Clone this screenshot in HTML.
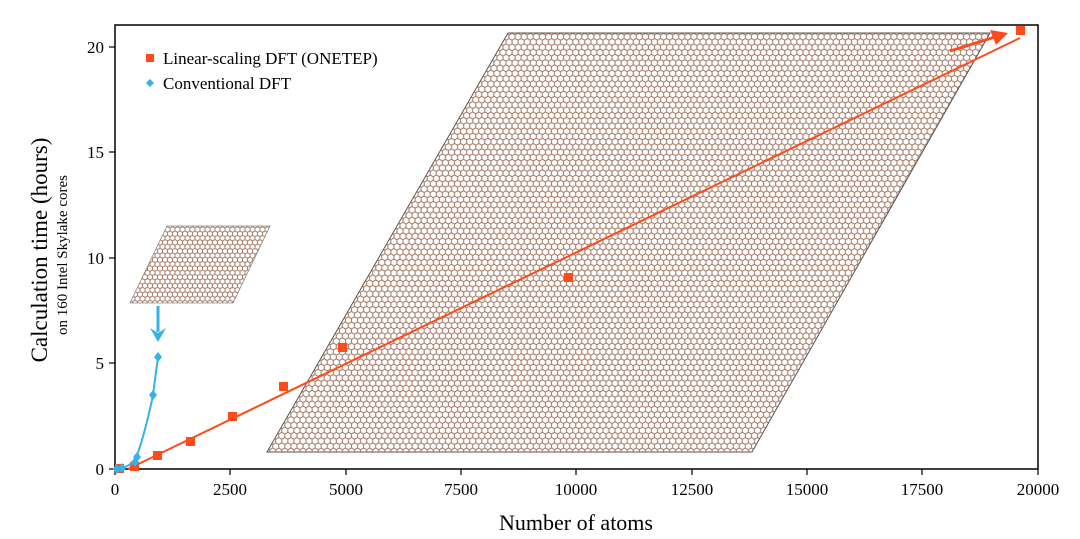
<!DOCTYPE html>
<html><head><style>body{margin:0;background:#fff}svg{display:block}</style></head><body>
<svg width="1080" height="539" viewBox="0 0 1080 539" xmlns="http://www.w3.org/2000/svg" font-family="Liberation Serif, serif">
<defs>
<pattern id="hx" width="6.06" height="10.5" patternUnits="userSpaceOnUse">
<path d="M3.03,0 V1.75 M0,3.5 L3.03,1.75 L6.06,3.5 V7 L3.03,8.75 L0,7 Z M3.03,8.75 V10.5" fill="none" stroke="#a8806c" stroke-width="1.1"/>
</pattern>
<pattern id="hx2" width="5" height="8.66" patternUnits="userSpaceOnUse">
<path d="M2.5,0 V1.44 M0,2.89 L2.5,1.44 L5,2.89 V5.77 L2.5,7.22 L0,5.77 Z M2.5,7.22 V8.66" fill="none" stroke="#a8806c" stroke-width="1"/>
</pattern>
</defs>
<!-- axes box -->
<rect x="115" y="25" width="923" height="444" fill="none" stroke="#000" stroke-width="1.5"/>
<!-- parallelograms -->
<polygon points="267,452 752,452 990,33 508,33" fill="url(#hx)" stroke="#555" stroke-width="1"/>
<polygon points="130,303 233,303 270,226 167,226" fill="url(#hx2)" stroke="#888" stroke-width="0.8"/>
<!-- ticks -->
<g stroke="#000" stroke-width="1.2">
<line x1="115" y1="469" x2="115" y2="475"/><line x1="230" y1="469" x2="230" y2="475"/><line x1="346" y1="469" x2="346" y2="475"/><line x1="461" y1="469" x2="461" y2="475"/><line x1="576" y1="469" x2="576" y2="475"/><line x1="692" y1="469" x2="692" y2="475"/><line x1="807" y1="469" x2="807" y2="475"/><line x1="922" y1="469" x2="922" y2="475"/><line x1="1038" y1="469" x2="1038" y2="475"/>
<line x1="109" y1="469" x2="115" y2="469"/><line x1="109" y1="363" x2="115" y2="363"/><line x1="109" y1="258" x2="115" y2="258"/><line x1="109" y1="152" x2="115" y2="152"/><line x1="109" y1="47" x2="115" y2="47"/>
</g>
<g font-size="17" text-anchor="middle" fill="#000">
<text x="115" y="495">0</text><text x="230" y="495">2500</text><text x="346" y="495">5000</text><text x="461" y="495">7500</text><text x="576" y="495">10000</text><text x="692" y="495">12500</text><text x="807" y="495">15000</text><text x="922" y="495">17500</text><text x="1038" y="495">20000</text>
</g>
<g font-size="17" text-anchor="end" fill="#000">
<text x="104" y="475">0</text><text x="104" y="369">5</text><text x="104" y="264">10</text><text x="104" y="158">15</text><text x="104" y="53">20</text>
</g>
<text x="576" y="530" font-size="22" text-anchor="middle">Number of atoms</text>
<text transform="translate(47,250) rotate(-90)" font-size="23" text-anchor="middle">Calculation time (hours)</text>
<text transform="translate(67,255) rotate(-90)" font-size="15" text-anchor="middle">on 160 Intel Skylake cores</text>
<!-- red line -->
<line x1="128" y1="469" x2="1020" y2="38" stroke="#ff4a1c" stroke-width="2"/>
<g fill="#ff4a1c">
<rect x="115" y="464" width="9" height="9"/><rect x="130" y="462" width="9" height="9"/><rect x="153" y="451" width="9" height="9"/><rect x="186" y="437" width="9" height="9"/><rect x="228" y="412" width="9" height="9"/><rect x="279" y="382" width="9" height="9"/><rect x="338" y="343" width="9" height="9"/><rect x="564" y="273" width="9" height="9"/><rect x="1016" y="26" width="9" height="9"/>
</g>
<!-- red arrow -->
<line x1="950" y1="51" x2="995" y2="37" stroke="#ff4a1c" stroke-width="3"/>
<polygon points="1008,33 990,30 996,45" fill="#ff4a1c"/>
<!-- blue -->
<path d="M116,469 C125,468 132,465 136,458 C143,440 150,410 153,395 C155,380 157,365 158,357" fill="none" stroke="#35b3e6" stroke-width="2"/>
<g fill="#35b3e6">
<path d="M117,464 l4,5 l-4,5 l-4,-5z"/><path d="M122,463 l4,5 l-4,5 l-4,-5z"/><path d="M135,457 l4,5 l-4,5 l-4,-5z"/><path d="M137,452 l4,5 l-4,5 l-4,-5z"/><path d="M153,390 l4,5 l-4,5 l-4,-5z"/><path d="M158,352 l4,5 l-4,5 l-4,-5z"/>
</g>
<line x1="158" y1="306" x2="158" y2="332" stroke="#35b3e6" stroke-width="3"/>
<polygon points="150,328 158,342 166,328 158,333" fill="#35b3e6"/>
<!-- legend -->
<rect x="146" y="54" width="8" height="8" fill="#ff4a1c"/>
<text x="163" y="64" font-size="17">Linear-scaling DFT (ONETEP)</text>
<path d="M150,79 l4,4 l-4,4 l-4,-4z" fill="#35b3e6"/>
<text x="163" y="89" font-size="17">Conventional DFT</text>
</svg>
</body></html>
